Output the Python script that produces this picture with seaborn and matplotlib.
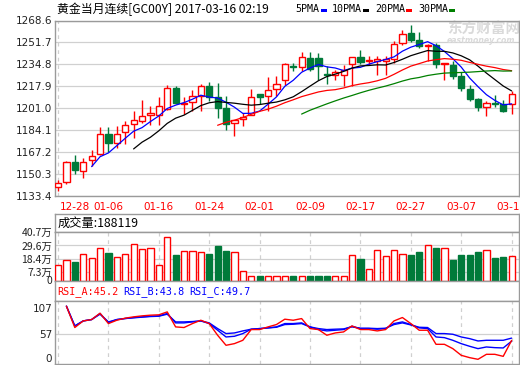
import numpy as np
import pandas as pd
import matplotlib
matplotlib.use('Agg')
import matplotlib.pyplot as plt
from matplotlib.patches import Rectangle
import seaborn as sns

# ---------------- data ----------------
opens = [1140.1, 1143.9, 1159.7, 1152.4, 1160.9, 1165.6, 1181.3, 1174.1, 1182.8, 1188.8,
         1191.4, 1195.5, 1195.5, 1200.4, 1216.8, 1204.0, 1205.8, 1210.6, 1218.4, 1209.6,
         1201.4, 1189.5, 1192.6, 1196.0, 1212.2, 1210.4, 1215.8, 1222.8, 1233.6, 1232.5,
         1239.8, 1239.8, 1227.7, 1226.9, 1226.9, 1235.1, 1240.5, 1237.4, 1237.4, 1237.2,
         1239.0, 1251.3, 1259.1, 1253.9, 1249.3, 1250.0, 1235.1, 1234.1, 1226.1, 1216.0,
         1208.0, 1201.6, 1205.0, 1204.2, 1204.2]
highs = [1145.8, 1160.7, 1165.1, 1162.5, 1168.9, 1186.4, 1186.4, 1187.5, 1191.3, 1199.0,
         1207.3, 1202.4, 1209.4, 1218.9, 1218.4, 1209.3, 1215.0, 1219.9, 1220.9, 1220.4,
         1210.1, 1191.6, 1197.0, 1215.8, 1212.2, 1225.0, 1225.6, 1235.9, 1235.9, 1244.4,
         1244.4, 1243.6, 1233.3, 1230.7, 1234.6, 1240.5, 1245.7, 1241.0, 1241.0, 1241.0,
         1252.6, 1261.6, 1265.5, 1259.6, 1250.6, 1251.3, 1235.9, 1237.2, 1228.9, 1218.6,
         1208.9, 1206.8, 1211.4, 1207.6, 1214.0]
lows = [1137.5, 1143.0, 1150.4, 1147.6, 1156.6, 1165.0, 1167.1, 1170.7, 1173.3, 1178.0,
        1190.0, 1188.0, 1188.0, 1199.8, 1204.0, 1196.5, 1198.5, 1198.5, 1206.8, 1193.4,
        1184.4, 1180.0, 1187.7, 1195.5, 1204.0, 1199.0, 1210.1, 1219.1, 1229.4, 1230.0,
        1229.5, 1223.0, 1219.6, 1223.0, 1217.8, 1217.8, 1235.1, 1234.6, 1226.9, 1227.0,
        1235.9, 1249.5, 1252.1, 1247.5, 1237.7, 1232.0, 1223.0, 1223.5, 1214.5, 1206.8,
        1199.0, 1194.7, 1201.6, 1197.8, 1196.7]
closes = [1143.2, 1159.4, 1153.2, 1159.7, 1164.6, 1181.3, 1174.1, 1181.3, 1188.0, 1191.9,
          1195.0, 1197.5, 1202.9, 1216.8, 1204.7, 1204.8, 1210.6, 1218.4, 1209.6, 1200.9,
          1188.7, 1191.6, 1194.4, 1209.9, 1209.6, 1215.0, 1219.6, 1235.4, 1233.1, 1240.5,
          1231.3, 1233.3, 1226.3, 1228.7, 1230.7, 1240.5, 1236.4, 1238.4, 1238.6, 1239.0,
          1250.5, 1258.3, 1253.9, 1248.8, 1250.0, 1235.1, 1235.9, 1226.1, 1216.6, 1208.0,
          1201.6, 1205.0, 1204.2, 1199.0, 1212.2]
volumes = [12.7, 17.0, 16.0, 22.6, 19.0, 27.4, 23.2, 19.5, 22.6, 31.1,
           26.3, 27.7, 12.7, 36.5, 21.2, 24.6, 24.6, 23.7, 22.0, 28.8,
           24.6, 23.7, 8.2, 4.2, 4.2, 4.2, 4.2, 4.2, 4.2, 4.2,
           4.2, 4.2, 4.2, 4.2, 4.2, 21.2, 18.1, 9.3, 25.4, 20.4,
           25.4, 22.0, 21.2, 23.7, 30.3, 27.4, 27.1, 17.0, 21.2, 21.2,
           23.7, 25.4, 18.9, 19.5, 20.4]
rsi_a = [np.nan, 111, 70.0, 82.7, 85.3, 97.5, 77.6, 84.0, 88.0, 90.5,
         92.4, 93.7, 94.4, 100.0, 71.2, 70.0, 77.6, 84.0, 77.6, 55.2,
         35.9, 39.1, 45.5, 66.1, 66.1, 71.2, 75.7, 86.0, 84.0, 87.2,
         68.0, 66.1, 55.2, 59.6, 61.6, 73.1, 66.1, 66.1, 63.5, 66.1,
         82.7, 89.2, 77.6, 64.8, 64.8, 37.8, 37.8, 29.5, 16.7, 12.2,
         9.0, 18.6, 18.6, 14.7, 45.2]
rsi_b = [np.nan, 111, 73.1, 82.7, 85.3, 96.9, 79.5, 85.3, 87.3, 89.2,
         90.5, 91.7, 92.4, 96.9, 78.9, 78.9, 80.8, 82.7, 77.6, 64.8,
         51.9, 53.2, 58.4, 66.8, 68.0, 69.3, 71.2, 77.6, 77.6, 78.9,
         71.2, 66.1, 63.5, 64.8, 66.1, 72.5, 68.0, 68.0, 66.8, 68.0,
         77.6, 80.8, 75.7, 69.3, 68.0, 51.9, 50.6, 45.5, 39.1, 34.0,
         29.5, 32.7, 31.4, 30.8, 43.8]
rsi_c = [np.nan, 111, 73.1, 82.7, 85.3, 95.6, 80.8, 85.3, 87.3, 88.6,
         89.9, 91.1, 91.7, 95.6, 80.8, 80.8, 81.5, 82.7, 78.9, 68.0,
         58.4, 59.6, 63.5, 66.8, 68.0, 69.3, 70.5, 75.7, 76.3, 77.6,
         71.2, 68.0, 66.1, 66.8, 67.4, 71.2, 68.7, 68.7, 68.0, 68.7,
         75.7, 78.9, 75.0, 70.5, 70.0, 58.4, 58.4, 57.1, 51.9, 48.7,
         44.2, 45.5, 45.5, 45.5, 49.7]
date_ticks = [2, 6, 12, 18, 24, 30, 36, 42, 48, 54]
date_labels = ['12-28', '01-06', '01-16', '01-24', '02-01', '02-09', '02-17', '02-27', '03-07', '03-15']
grid_days = [0, 6, 12, 18, 24, 30, 36, 42, 48, 54]
price_ticks = [1133.4, 1150.3, 1167.2, 1184.1, 1201.0, 1217.9, 1234.8, 1251.7, 1268.6]
vol_ticks = [0, 7.3, 18.4, 29.6, 40.7]
vol_labels = ['0', '7.3万', '18.4万', '29.6万', '40.7万']
rsi_ticks = [0, 57, 107]
ma_periods = [5, 10, 20, 30]
ma_names = ['5PMA', '10PMA', '20PMA', '30PMA']

# ---------------- style ----------------
sns.set_style('white')
plt.rcParams['font.family'] = ['DejaVu Sans']
CJK = ['Noto Sans CJK SC', 'DejaVu Sans']
MONO = 'DejaVu Sans Mono'
RED = '#ff0000'
GREEN = '#007a3a'
BLUE = '#0000ff'
MA_COLORS = ['#0000ff', '#000000', '#ff0000', '#008000']
SPINE = '#9a9a9a'
GRID = '#d0d0d0'

W, H = 520, 365
fig = plt.figure(figsize=(W / 100, H / 100), dpi=100)
fig.patch.set_facecolor('white')


def box(x0, y0, x1, y1):
    return [x0 / W, 1 - y1 / H, (x1 - x0) / W, (y1 - y0) / H]


def frame(a):
    for s in a.spines.values():
        s.set_color(SPINE)
        s.set_linewidth(1.0)
        s.set_visible(True)


df = pd.DataFrame({'open': opens, 'high': highs, 'low': lows, 'close': closes, 'vol': volumes,
                   'rsi_a': rsi_a, 'rsi_b': rsi_b, 'rsi_c': rsi_c})
df['idx'] = np.arange(len(df))
up = (df['close'] >= df['open']).to_numpy()
idx = df['idx'].to_numpy()
XLIM = (-0.36, 54.88)
BW = 0.74


def vgrid(a):
    a.set_xticks(grid_days, minor=True)
    a.grid(axis='x', which='minor', color=GRID, linestyle=(0, (3, 3)), linewidth=0.9)
    a.tick_params(axis='x', which='minor', length=0)


# ---------------- main price panel ----------------
ax = fig.add_axes(box(55, 20.5, 519, 196))
frame(ax)
ax.set_xlim(*XLIM)
ax.set_ylim(price_ticks[0], price_ticks[-1])
ax.set_yticks(price_ticks)
ax.set_yticklabels([f'{v:.1f}' for v in price_ticks])
ax.grid(axis='y', which='major', color=GRID, linewidth=0.9)
vgrid(ax)
ax.set_xticks(date_ticks)
ax.set_xticklabels(date_labels)
ax.tick_params(axis='x', which='major', length=0, colors=RED, labelsize=7.5, pad=4)
ax.tick_params(axis='y', length=0, labelsize=7.5, labelcolor='#222222', pad=2)
ax.set_axisbelow(True)

# watermark (behind the candles)
ax.text((447 - 55) / 464, 1 - (29 - 20.5) / 175.5, '东方财富网', transform=ax.transAxes,
        family=CJK, fontsize=10.5, fontweight='bold', color='#dadada', va='center', ha='left', zorder=1)
ax.text((447 - 55) / 464, 1 - (40.5 - 20.5) / 175.5, 'eastmoney.com', transform=ax.transAxes,
        fontsize=5.6, fontweight='bold', style='italic', color='#dadada', va='center', ha='left', zorder=1)

wick_colors = [RED if u else GREEN for u in up]
ax.vlines(idx, df['low'], df['high'], colors=wick_colors, linewidth=1.0, zorder=2)
body_lo = np.minimum(df['open'], df['close']).to_numpy()
body_h = np.maximum(np.abs(df['close'] - df['open']).to_numpy(), 0.25)
ax.bar(idx[up], body_h[up], bottom=body_lo[up], width=BW, facecolor='white',
       edgecolor=RED, linewidth=1.0, zorder=3)
ax.bar(idx[~up], body_h[~up], bottom=body_lo[~up], width=BW, facecolor=GREEN,
       edgecolor=GREEN, linewidth=1.0, zorder=3)

for p, c in zip(ma_periods, MA_COLORS):
    ma = df['close'].rolling(p).mean()
    sns.lineplot(x=df['idx'], y=ma, ax=ax, color=c, linewidth=0.9, legend=False, zorder=4)
ax.set_xlabel('')
ax.set_ylabel('')

# title and legend
fig.text(57 / W, 1 - 9 / H, '黄金当月连续[GC00Y] 2017-03-16 02:19', family=CJK, fontsize=8.6,
         color='black', va='center', ha='left')
leg_x = [295, 332, 375, 418]
sq_x = [321, 363, 406, 449]
for name, c, lx, sx in zip(ma_names, MA_COLORS, leg_x, sq_x):
    fig.text(lx / W, 1 - 9 / H, name, family=MONO, fontsize=7.2, color='black', va='center', ha='left')
    fig.patches.append(Rectangle((sx / W, 1 - 12.3 / H), 5.5 / W, 3.2 / H, transform=fig.transFigure,
                                 facecolor=c, edgecolor='none'))

# ---------------- volume panel ----------------
axvh = fig.add_axes(box(55, 214.3, 519, 232.3))
frame(axvh)
axvh.set_xticks([])
axvh.set_yticks([])
axvh.text(0.005, 0.5, '成交量:188119', transform=axvh.transAxes, family=CJK, fontsize=8.8,
          va='center', ha='left', color='black')

axv = fig.add_axes(box(55, 232.3, 519, 280.5))
frame(axv)
axv.set_xlim(*XLIM)
axv.set_ylim(0, 40.7)
axv.set_yticks(vol_ticks)
axv.set_yticklabels(vol_labels, family=CJK)
axv.tick_params(axis='y', length=0, labelsize=7.5, labelcolor='#222222', pad=2)
axv.set_xticks([])
axv.grid(axis='y', which='major', color=GRID, linewidth=0.9)
vgrid(axv)
axv.set_axisbelow(True)
axv.bar(idx[up], df['vol'].to_numpy()[up], width=BW, facecolor='white', edgecolor=RED,
        linewidth=1.0, zorder=3)
axv.bar(idx[~up], df['vol'].to_numpy()[~up], width=BW, facecolor=GREEN, edgecolor=GREEN,
        linewidth=1.0, zorder=3)

# ---------------- RSI panel ----------------
axrh = fig.add_axes(box(55, 280.5, 519, 300.7))
frame(axrh)
axrh.set_xticks([])
axrh.set_yticks([])
axrh.text(2 / 464, 0.45, 'RSI_A:45.2', transform=axrh.transAxes, family=MONO, fontsize=7.3,
          color=RED, va='center', ha='left')
axrh.text(68 / 464, 0.45, 'RSI_B:43.8', transform=axrh.transAxes, family=MONO, fontsize=7.3,
          color=BLUE, va='center', ha='left')
axrh.text(134 / 464, 0.45, 'RSI_C:49.7', transform=axrh.transAxes, family=MONO, fontsize=7.3,
          color=BLUE, va='center', ha='left')

axr = fig.add_axes(box(55, 300.7, 519, 364))
frame(axr)
axr.set_xlim(*XLIM)
axr.set_ylim(0, 121.5)
axr.set_yticks(rsi_ticks)
axr.set_yticklabels([str(v) for v in rsi_ticks])
axr.tick_params(axis='y', length=0, labelsize=7.5, labelcolor='#222222', pad=2)
axr.set_xticks([])
axr.grid(axis='y', which='major', color=GRID, linewidth=0.9)
gl = axr.yaxis.get_gridlines()
gl[0].set_visible(False)
gl[2].set_visible(False)
axr.yaxis.get_major_ticks()[0].label1.set_va('bottom')
vgrid(axr)
axr.set_axisbelow(True)
for col, c in [('rsi_c', BLUE), ('rsi_b', BLUE), ('rsi_a', RED)]:
    sns.lineplot(data=df, x='idx', y=col, ax=axr, color=c, linewidth=1.0, legend=False, zorder=3)
axr.set_xlabel('')
axr.set_ylabel('')

fig.savefig('out.png', dpi=100, facecolor='white')
